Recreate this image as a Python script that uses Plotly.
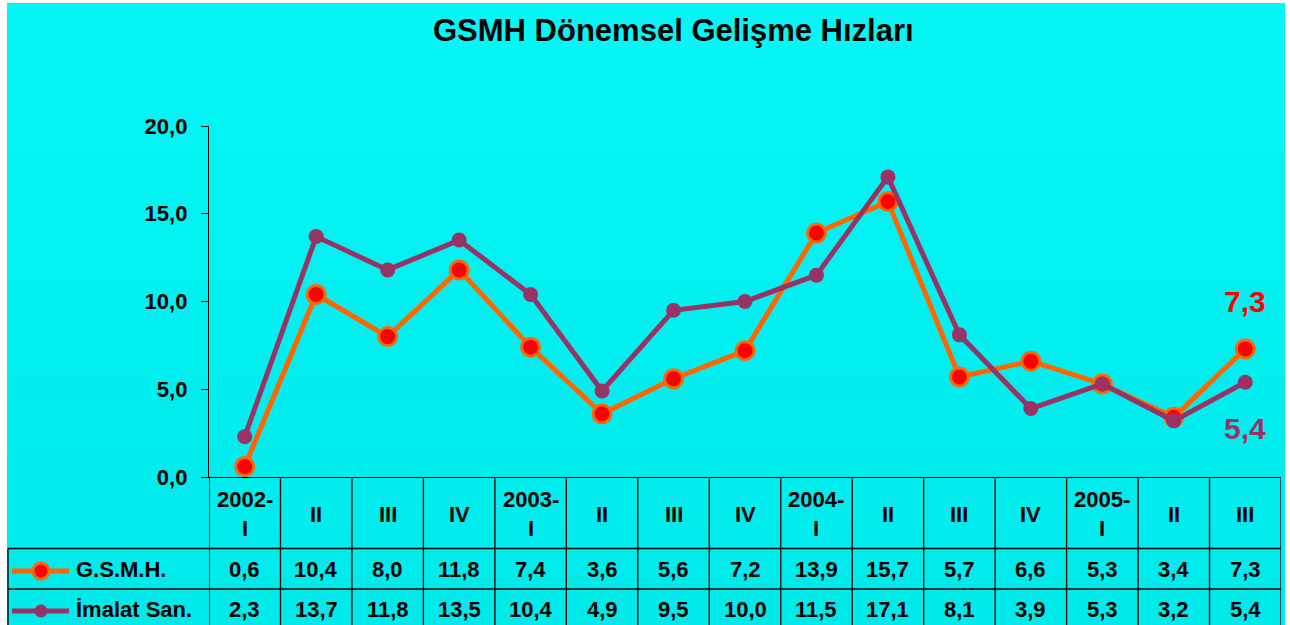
import plotly.graph_objects as go

categories = ["2002-<br>I", "II", "III", "IV", "2003-<br>I", "II", "III", "IV",
              "2004-<br>I", "II", "III", "IV", "2005-<br>I", "II", "III"]
gsmh = [0.6, 10.4, 8.0, 11.8, 7.4, 3.6, 5.6, 7.2, 13.9, 15.7, 5.7, 6.6, 5.3, 3.4, 7.3]
imalat = [2.3, 13.7, 11.8, 13.5, 10.4, 4.9, 9.5, 10.0, 11.5, 17.1, 8.1, 3.9, 5.3, 3.2, 5.4]
series_names = ["G.S.M.H.", "İmalat San."]
y_ticks = [0, 5, 10, 15, 20]

W, H = 1290, 625
FONT = "Liberation Sans, Arial, sans-serif"
ORANGE = "#FF6600"
RED = "#FF0000"
PURPLE = "#993366"


def px(x):
    return x / W


def py(y):
    return 1 - y / H


def fmt(v):
    return f"{v:.1f}".replace(".", ",")


n = len(categories)
xs = list(range(n))

fig = go.Figure()
fig.add_trace(go.Scatter(
    x=xs, y=gsmh, mode="lines+markers", name=series_names[0],
    line=dict(color=ORANGE, width=5),
    marker=dict(size=18, color=RED, line=dict(color=ORANGE, width=3)),
    cliponaxis=False, showlegend=False))
fig.add_trace(go.Scatter(
    x=xs, y=imalat, mode="lines+markers", name=series_names[1],
    line=dict(color=PURPLE, width=5),
    marker=dict(size=15, color=PURPLE),
    cliponaxis=False, showlegend=False))

shapes = []
# background with gentle vertical gradient
bands = 25
top, bot = 3, H
for i in range(bands):
    y0 = top + (bot - top) * i / bands
    y1 = top + (bot - top) * (i + 1) / bands + 1.5
    t = i / (bands - 1)
    g = round(0xF6 - t * (0xF6 - 0xEA))
    r = round(4 - t * 4)
    col = f"#{r:02X}{g:02X}{g:02X}"
    shapes.append(dict(type="rect", xref="paper", yref="paper",
                       x0=px(7), x1=px(1285), y0=py(min(y1, H)), y1=py(y0),
                       fillcolor=col, line=dict(width=0), layer="below"))

LINE = dict(color="black", width=1.3)
ROW_LINES = [548.5, 589]
# table grid
for k in range(n + 1):
    shapes.append(dict(type="line", xref="x", yref="paper",
                       x0=k - 0.5, x1=k - 0.5, y0=py(477), y1=py(625), line=LINE))
shapes.append(dict(type="line", xref="paper", yref="paper",
                   x0=px(8), x1=px(8), y0=py(ROW_LINES[0]), y1=py(625), line=LINE))
for yy in ROW_LINES:
    shapes.append(dict(type="line", xref="paper", yref="paper",
                       x0=px(8), x1=px(1281), y0=py(yy), y1=py(yy), line=LINE))

annotations = []
# title
annotations.append(dict(text="GSMH Dönemsel Gelişme Hızları", xref="paper", yref="paper",
                        x=px(674), y=py(30), xanchor="center", yanchor="middle",
                        showarrow=False,
                        font=dict(family=FONT, size=31, color="black", weight="bold")))
# header
for i, c in enumerate(categories):
    annotations.append(dict(text=c, xref="x", yref="paper", x=i, y=py(514),
                            xanchor="center", yanchor="middle", showarrow=False,
                            font=dict(family=FONT, size=22, color="black", weight="bold")))
# values
row_y = [569, 609]
for r, vals in enumerate([gsmh, imalat]):
    for i, v in enumerate(vals):
        annotations.append(dict(text=fmt(v), xref="x", yref="paper", x=i, y=py(row_y[r]),
                                xanchor="center", yanchor="middle", showarrow=False,
                                font=dict(family=FONT, size=22, color="black", weight="bold")))
    annotations.append(dict(text=series_names[r], xref="paper", yref="paper",
                            x=px(74), y=py(row_y[r]), xanchor="left", yanchor="middle",
                            showarrow=False,
                            font=dict(family=FONT, size=22, color="black", weight="bold")))

# legend keys
for r, (lc, fc, lw, rad) in enumerate([(ORANGE, RED, 3, 8), (PURPLE, PURPLE, 0, 6.5)]):
    yc = row_y[r] + 2
    shapes.append(dict(type="line", xref="paper", yref="paper",
                       x0=px(12), x1=px(69), y0=py(yc), y1=py(yc),
                       line=dict(color=lc, width=5)))
    shapes.append(dict(type="circle", xref="paper", yref="paper",
                       x0=px(41 - rad), x1=px(41 + rad), y0=py(yc + rad), y1=py(yc - rad),
                       fillcolor=fc, line=dict(color=lc, width=lw if lw else 0.1)))

# end labels
annotations.append(dict(text=fmt(gsmh[-1]), xref="x", yref="y", x=n - 1, y=gsmh[-1],
                        xanchor="center", yanchor="middle",
                        yshift=47, showarrow=False,
                        font=dict(family=FONT, size=30, color=RED, weight="bold")))
annotations.append(dict(text=fmt(imalat[-1]), xref="x", yref="y", x=n - 1, y=imalat[-1],
                        xanchor="center", yanchor="middle",
                        yshift=-46, showarrow=False,
                        font=dict(family=FONT, size=30, color=PURPLE, weight="bold")))

fig.update_layout(
    width=W, height=H, margin=dict(l=0, r=0, t=0, b=0, autoexpand=False),
    paper_bgcolor="white", plot_bgcolor="rgba(0,0,0,0)",
    separators=",.",
    shapes=shapes, annotations=annotations,
    xaxis=dict(domain=[px(209), px(1281)], range=[-0.5, n - 0.5],
               showticklabels=False, showgrid=False, zeroline=False,
               showline=True, linecolor="black", linewidth=1.3, ticks=""),
    yaxis=dict(domain=[py(477), py(126)], range=[0, 20],
               tickvals=y_ticks, tickformat=".1f",
               showgrid=False, zeroline=False,
               showline=True, linecolor="black", linewidth=1.3,
               ticks="outside", ticklen=7, tickcolor="black",
               ticklabelstandoff=9,
               tickfont=dict(family=FONT, size=22, color="black", weight="bold")),
)

fig.write_html(
    "out.html",
    config={"displayModeBar": False},
    post_script="document.body.style.margin='0';document.body.style.overflow='hidden';",
)
